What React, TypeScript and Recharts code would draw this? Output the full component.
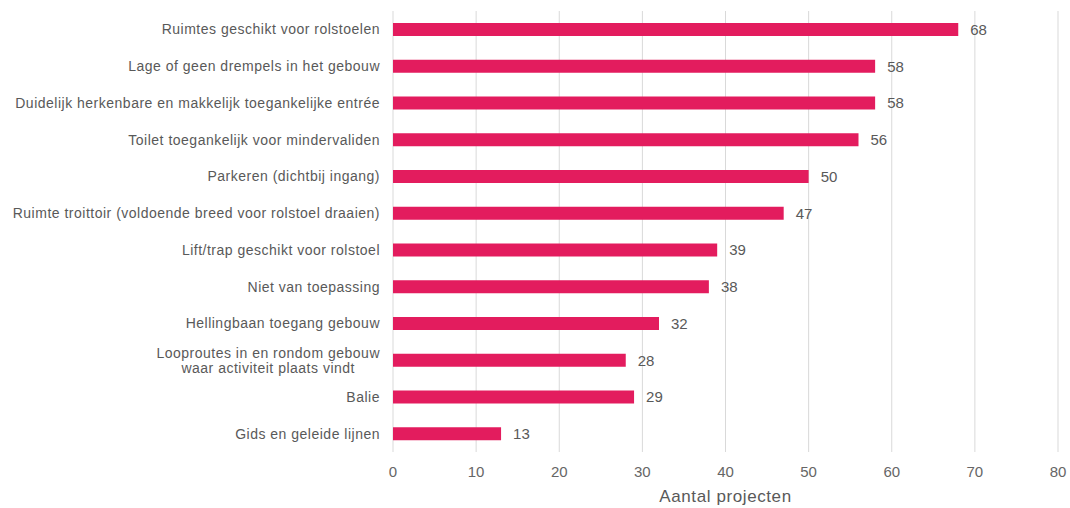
import { Bar, BarChart, CartesianGrid, LabelList, XAxis, YAxis } from "recharts"

const categories = [
    "Ruimtes geschikt voor rolstoelen",
    "Lage of geen drempels in het gebouw",
    "Duidelijk herkenbare en makkelijk toegankelijke entrée",
    "Toilet toegankelijk voor mindervaliden",
    "Parkeren (dichtbij ingang)",
    "Ruimte troittoir (voldoende breed voor rolstoel draaien)",
    "Lift/trap geschikt voor rolstoel",
    "Niet van toepassing",
    "Hellingbaan toegang gebouw",
    "Looproutes in en rondom gebouw\nwaar activiteit plaats vindt",
    "Balie",
    "Gids en geleide lijnen",
]

const projecten = [68, 58, 58, 56, 50, 47, 39, 38, 32, 28, 29, 13]

const xTicks = [0, 10, 20, 30, 40, 50, 60, 70, 80]

const data = categories.map((name, i) => ({ name, value: projecten[i] }))

const PINK = "#E31C5E"
const GREY = "#595959"
const FONT = "'Liberation Sans', Arial, sans-serif"
const SPACING = 0.5

let ctx: CanvasRenderingContext2D | null = null
function textWidth(s: string) {
    if (!ctx) ctx = document.createElement("canvas").getContext("2d")
    if (!ctx) return s.length * 7
    ctx.font = `14px ${FONT}`
    return ctx.measureText(s).width + s.length * SPACING
}

function CategoryTick(props: any) {
    const { x, y, payload } = props
    const lines: string[] = String(payload.value).split("\n")
    const lineHeight = 15
    const w = Math.max(...lines.map(textWidth))
    const multi = lines.length > 1
    const tx = multi ? x - w / 2 : x
    const startY = y - ((lines.length - 1) * lineHeight) / 2
    return (
        <text
            x={tx}
            y={startY}
            textAnchor={multi ? "middle" : "end"}
            fill={GREY}
            fontSize={14}
            fontFamily={FONT}
            letterSpacing={SPACING}
        >
            {lines.map((l, i) => (
                <tspan key={i} x={tx} y={startY + i * lineHeight} dy="0.35em">
                    {l}
                </tspan>
            ))}
        </text>
    )
}

export default function App() {
    return (
        <div style={{ width: 1070, height: 508, background: "#fff" }}>
            <style>{"body{margin:0}"}</style>
            <BarChart
                width={1070}
                height={508}
                data={data}
                layout="vertical"
                margin={{ top: 11, right: 12, left: 0, bottom: 0 }}
                barSize={13}
            >
                <CartesianGrid horizontal={false} stroke="#d9d9d9" />
                <XAxis
                    type="number"
                    domain={[0, 80]}
                    ticks={xTicks}
                    axisLine={false}
                    tickLine={false}
                    tickSize={0}
                    tickMargin={14}
                    height={56}
                    tick={{ fill: "#666666", fontSize: 15, fontFamily: FONT }}
                    label={{
                        value: "Aantal projecten",
                        position: "insideBottom",
                        offset: 6,
                        fill: GREY,
                        fontSize: 17,
                        fontFamily: FONT,
                        letterSpacing: 0.6,
                    }}
                />
                <YAxis
                    type="category"
                    dataKey="name"
                    width={393}
                    axisLine={false}
                    tickLine={false}
                    tickSize={0}
                    tickMargin={13}
                    interval={0}
                    tick={<CategoryTick />}
                />
                <Bar dataKey="value" fill={PINK} isAnimationActive={false}>
                    <LabelList
                        dataKey="value"
                        position="right"
                        offset={12}
                        fill={GREY}
                        fontSize={15}
                        fontFamily={FONT}
                    />
                </Bar>
            </BarChart>
        </div>
    )
}
